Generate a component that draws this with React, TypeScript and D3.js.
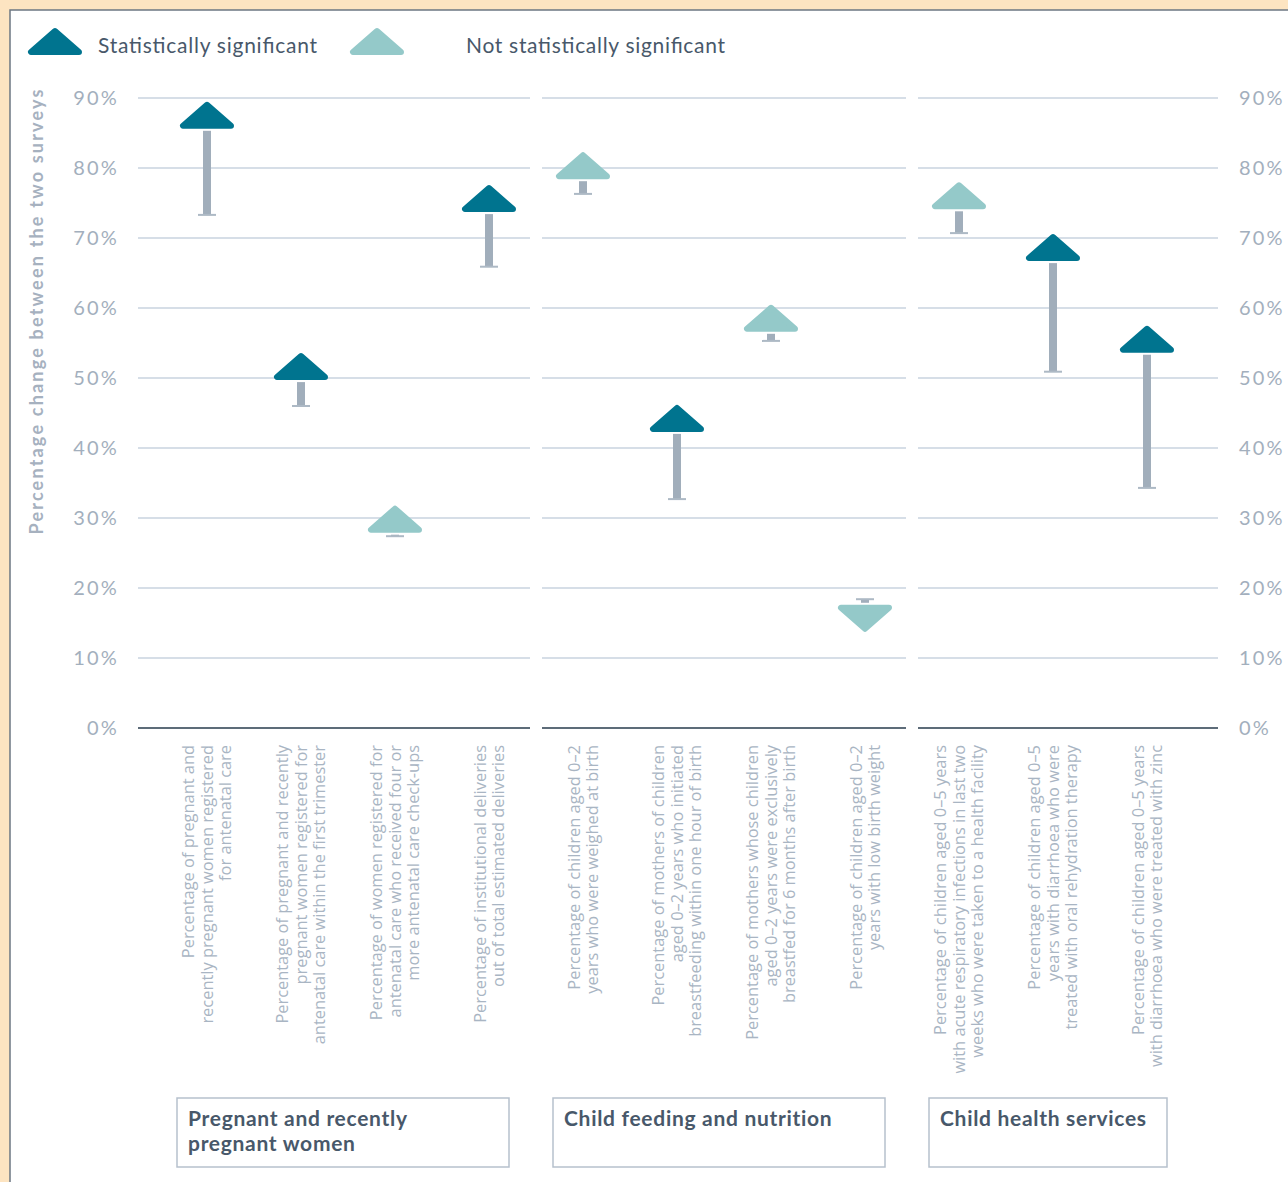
import React from "react";
import * as d3 from "d3";

// indicator labels (line-broken as in the original)
const categories: string[][] = [
  ["Percentage of pregnant and", "recently pregnant women registered", "for antenatal care"],
  ["Percentage of pregnant and recently", "pregnant women registered for", "antenatal care within the first trimester"],
  ["Percentage of women registered for", "antenatal care who received four or", "more antenatal care check-ups"],
  ["Percentage of institutional deliveries", "out of total estimated deliveries"],
  ["Percentage of children aged 0\u20132", "years who were weighed at birth"],
  ["Percentage of mothers of children", "aged 0\u20132 years who initiated", "breastfeeding within one hour of birth"],
  ["Percentage of mothers whose children", "aged 0\u20132 years were exclusively", "breastfed for 6 months after birth"],
  ["Percentage of children aged 0\u20132", "years with low birth weight"],
  ["Percentage of children aged 0\u20135 years", "with acute respiratory infections in last two", "weeks who were taken to a health facility"],
  ["Percentage of children aged 0\u20135", "years with diarrhoea who were", "treated with oral rehydration therapy"],
  ["Percentage of children aged 0\u20135 years", "with diarrhoea who were treated with zinc"],
];
const groupNames: string[][] = [
  ["Pregnant and recently", "pregnant women"],
  ["Child feeding and nutrition"],
  ["Child health services"],
];
const groupOf = [0, 0, 0, 0, 1, 1, 1, 1, 2, 2, 2];
// first survey value (%) and second survey value (%)
const before = [73.3, 46.0, 27.4, 65.9, 76.3, 32.7, 55.3, 18.4, 70.7, 50.9, 34.3];
const after = [85.6, 49.7, 27.9, 73.7, 78.4, 42.3, 56.6, 17.6, 74.1, 66.7, 53.6];
const significant = [true, true, false, true, false, true, false, false, false, true, true];
const yTicks = [0, 10, 20, 30, 40, 50, 60, 70, 80, 90];

const DARK = "#00748f";
const LIGHT = "#94c9c9";
const STEM = "#a1aebb";
const GRID = "#d6dee7";
const TICK = "#a3afbd";
const TEXT = "#48586a";
const FONT = "Lato, 'Open Sans', sans-serif";

function arrowPath(cx: number, base: number, up: boolean) {
  // inner triangle, drawn with a round-joined stroke to get soft corners
  const s = up ? -1 : 1;
  const b = base + s * 3;
  const a = base + s * 24;
  return `M${cx - 24},${b}L${cx + 24},${b}L${cx},${a}Z`;
}

export default function App() {
  const W = 1288, H = 1182;
  const y = d3.scaleLinear().domain([0, 90]).range([728, 98]);
  const idx = categories.map((_, i) => i);
  const x = d3.scalePoint<number>().domain(idx).range([207, 1147]);

  const groups = groupNames.map((name, g) => {
    const items = idx.filter(i => groupOf[i] === g);
    const first = items[0], last = items[items.length - 1];
    const left = g === 0 ? x(first)! - 69 : (x(first - 1)! + x(first)!) / 2 + 6;
    const right = g === groupNames.length - 1 ? x(last)! + 71 : (x(last)! + x(last + 1)!) / 2 - 6;
    return { name, items, left, right, boxL: x(first)! - 30, boxR: x(last)! + 20 };
  });

  return (
    <svg width={W} height={H} style={{ position: "absolute", left: 0, top: 0, display: "block" }} fontFamily={FONT}>
      <rect x={0} y={0} width={W} height={H} fill="#fde4c1" />
      <rect x={10} y={10} width={W} height={H} fill="#ffffff" stroke="#6c7783" strokeWidth={1.5} />

      {/* legend */}
      <path d={arrowPath(55, 55, true)} fill={DARK} stroke={DARK} strokeWidth={6} strokeLinejoin="round" />
      <text x={98} y={53} fontSize={21} fill={TEXT} textLength={219} lengthAdjust="spacing">Statistically significant</text>
      <path d={arrowPath(377, 55, true)} fill={LIGHT} stroke={LIGHT} strokeWidth={6} strokeLinejoin="round" />
      <text x={466} y={53} fontSize={21} fill={TEXT} textLength={259} lengthAdjust="spacing">Not statistically significant</text>

      {/* y axis title */}
      <text transform="translate(43,312) rotate(-90)" textAnchor="middle" fontSize={18} fontWeight={700}
        fill="#a6b1bf" textLength={445} lengthAdjust="spacing">
        Percentage change between the two surveys
      </text>

      {/* grid per panel */}
      {groups.map((g, gi) => (
        <g key={gi}>
          {yTicks.map(t => (
            <line key={t} x1={g.left} x2={g.right} y1={y(t)} y2={y(t)}
              stroke={t === 0 ? "#5d6c79" : GRID} strokeWidth={2} />
          ))}
        </g>
      ))}

      {/* tick labels both sides */}
      {yTicks.map(t => (
        <g key={t} fontSize={20} fill={TICK} letterSpacing={2.2}>
          <text x={119} y={y(t)} dy="0.35em" textAnchor="end">{t}%</text>
          <text x={1239} y={y(t)} dy="0.35em">{t}%</text>
        </g>
      ))}

      {/* arrows */}
      {idx.map(i => {
        const cx = x(i)!;
        const up = after[i] >= before[i];
        const col = significant[i] ? DARK : LIGHT;
        const y0 = y(before[i]);
        const y1 = y(after[i]);
        return (
          <g key={i}>
            <line x1={cx} x2={cx} y1={y0} y2={up ? y1 + 2 : y1 - 2} stroke={STEM} strokeWidth={8} />
            <line x1={cx - 9} x2={cx + 9} y1={y0} y2={y0} stroke="#adb9c5" strokeWidth={2} />
            <path d={arrowPath(cx, y1, up)} fill={col} stroke={col} strokeWidth={6} strokeLinejoin="round" />
          </g>
        );
      })}

      {/* category labels */}
      {idx.map(i => {
        const lines = categories[i];
        return (
          <text key={i} transform={`translate(${x(i)},745) rotate(-90)`} textAnchor="end"
            fontSize={16.4} fill="#a9b5c3" fontFamily="'Open Sans', sans-serif">
            {lines.map((l, k) => (
              <tspan key={k} x={0} y={(k - (lines.length - 1) / 2) * 18.5} dy="0.35em">{l}</tspan>
            ))}
          </text>
        );
      })}

      {/* group boxes */}
      {groups.map((g, gi) => (
        <g key={gi}>
          <rect x={g.boxL} y={1098} width={g.boxR - g.boxL} height={69} fill="none" stroke="#b6c1cd" strokeWidth={1.5} />
          {g.name.map((l, k) => (
            <text key={k} x={g.boxL + 11} y={1126 + k * 25} fontSize={21} fontWeight={700} fill={TEXT}
              letterSpacing={0.7}>{l}</text>
          ))}
        </g>
      ))}
    </svg>
  );
}
